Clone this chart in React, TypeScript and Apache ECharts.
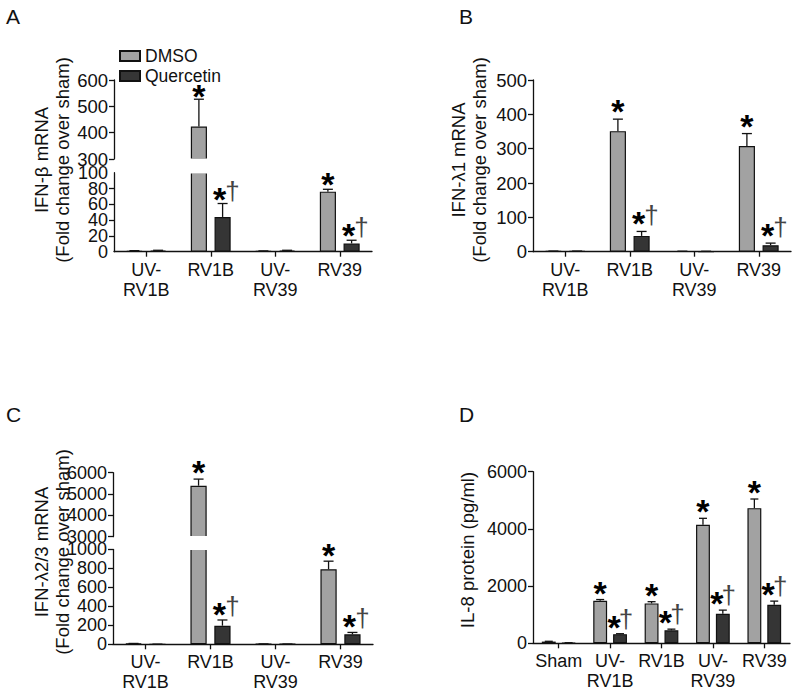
import React, { useEffect, useRef } from "react";
import * as echarts from "echarts";

// ---------- data ----------
const catsABC = ["UV-\nRV1B", "RV1B", "UV-\nRV39", "RV39"];
const catsD = ["Sham", "UV-\nRV1B", "RV1B", "UV-\nRV39", "RV39"];

// A: IFN-beta mRNA
const ifnbDmso = [1, 423, 0.8, 76];
const ifnbDmsoErr = [0.3, 104, 0.2, 3];
const ifnbQuer = [1.5, 44, 1.5, 10.5];
const ifnbQuerErr = [0.3, 17, 0.3, 4];

// B: IFN-lambda1 mRNA
const ifnl1Dmso = [1.5, 351, 1.2, 308];
const ifnl1DmsoErr = [0.3, 35, 0.3, 36];
const ifnl1Quer = [1.5, 46, 1, 19];
const ifnl1QuerErr = [0.3, 13, 0.3, 6];

// C: IFN-lambda2/3 mRNA
const ifnl23Dmso = [8, 5390, 3, 790];
const ifnl23DmsoErr = [1, 310, 1, 85];
const ifnl23Quer = [1, 196, 2, 105];
const ifnl23QuerErr = [0.5, 60, 0.5, 20];

// D: IL-8 protein
const il8Dmso = [60, 1485, 1395, 4145, 4725];
const il8DmsoErr = [10, 45, 60, 225, 320];
const il8Quer = [15, 320, 455, 1035, 1345];
const il8QuerErr = [5, 15, 40, 125, 130];

// significance flags (vs sham: *, vs DMSO: †)
const sigABC = [false, true, false, true];
const sigD = [false, true, true, true, true];

// ---------- styles ----------
const FONT = "'Liberation Sans', Arial, sans-serif";
const DMSO_COLOR = "#a2a2a2";
const QUER_COLOR = "#353535";
const INK = "#111";

type Panel = {
  grid: number;
  cats: string[];
  lo: number;
  hi: number;
  interval: number;
  showX: boolean;
  barPct: number;
  gapPct: number;
  cap: number;
  qStarDx: number;
  qDagDx: number;
  starGap: number;
  dmso: number[];
  dmsoErr: number[];
  quer: number[];
  querErr: number[];
  sig: boolean[];
  tickFont: number;
  splitEnds?: boolean;
};

const grids = [
  { left: 114, top: 80, width: 258, height: 79 }, // A upper
  { left: 114, top: 172.7, width: 258, height: 79 }, // A lower
  { left: 533, top: 80, width: 258, height: 171.7 }, // B
  { left: 113, top: 472.7, width: 260, height: 64 }, // C upper
  { left: 113, top: 549.3, width: 260, height: 95 }, // C lower
  { left: 533, top: 471.7, width: 257, height: 171.6 }, // D
];

const panels: Panel[] = [
  { grid: 0, cats: catsABC, lo: 300, hi: 600, interval: 100, showX: false, barPct: 0.25, gapPct: 0.47, cap: 10, qStarDx: -3, qDagDx: 10, starGap: 9, dmso: ifnbDmso, dmsoErr: ifnbDmsoErr, quer: ifnbQuer, querErr: ifnbQuerErr, sig: sigABC, tickFont: 18.5 },
  { grid: 1, cats: catsABC, lo: 0, hi: 100, interval: 20, showX: true, barPct: 0.25, gapPct: 0.47, cap: 10, qStarDx: -3, qDagDx: 10, starGap: 11, dmso: ifnbDmso, dmsoErr: ifnbDmsoErr, quer: ifnbQuer, querErr: ifnbQuerErr, sig: sigABC, tickFont: 18, splitEnds: true },
  { grid: 2, cats: catsABC, lo: 0, hi: 500, interval: 100, showX: true, barPct: 0.25, gapPct: 0.47, cap: 10, qStarDx: -3, qDagDx: 10, starGap: 14, dmso: ifnl1Dmso, dmsoErr: ifnl1DmsoErr, quer: ifnl1Quer, querErr: ifnl1QuerErr, sig: sigABC, tickFont: 18.5 },
  { grid: 3, cats: catsABC, lo: 3000, hi: 6000, interval: 1000, showX: false, barPct: 0.25, gapPct: 0.47, cap: 10, qStarDx: -3, qDagDx: 10, starGap: 13, dmso: ifnl23Dmso, dmsoErr: ifnl23DmsoErr, quer: ifnl23Quer, querErr: ifnl23QuerErr, sig: sigABC, tickFont: 18 },
  { grid: 4, cats: catsABC, lo: 0, hi: 1000, interval: 200, showX: true, barPct: 0.25, gapPct: 0.47, cap: 10, qStarDx: -3, qDagDx: 10, starGap: 12, dmso: ifnl23Dmso, dmsoErr: ifnl23DmsoErr, quer: ifnl23Quer, querErr: ifnl23QuerErr, sig: sigABC, tickFont: 18 },
  { grid: 5, cats: catsD, lo: 0, hi: 6000, interval: 2000, showX: true, barPct: 0.27, gapPct: 0.43, cap: 8, qStarDx: -6, qDagDx: 6, starGap: 13, dmso: il8Dmso, dmsoErr: il8DmsoErr, quer: il8Quer, querErr: il8QuerErr, sig: sigD, tickFont: 18 },
];

function errSeries(p: Panel, which: number) {
  const vals = which === 0 ? p.dmso : p.quer;
  const errs = which === 0 ? p.dmsoErr : p.querErr;
  return {
    type: "custom",
    name: (which === 0 ? "errD" : "errQ") + p.grid,
    xAxisIndex: p.grid,
    yAxisIndex: p.grid,
    z: 5,
    silent: true,
    encode: { x: 0, y: 1 },
    data: vals.map((v, i) => [i, v, errs[i]]),
    renderItem: (params: any, api: any) => {
      const i = api.value(0);
      const v = api.value(1);
      const e = api.value(2);
      const top = v + e;
      const children: any[] = [];
      if (top < p.lo || v > p.hi) return { type: "group", children };
      const band = api.size([1, 0])[0];
      const bw = band * p.barPct;
      const g = bw * p.gapPct;
      const cx = api.coord([i, p.lo])[0] + (which === 0 ? -1 : 1) * (bw + g) / 2;
      const y0 = api.coord([i, Math.max(v, p.lo)])[1];
      const y1 = api.coord([i, Math.min(top, p.hi)])[1];
      const ls = { stroke: INK, lineWidth: 1.3 };
      children.push({ type: "line", shape: { x1: cx, y1: y0, x2: cx, y2: y1 }, style: ls });
      if (top <= p.hi) {
        children.push({ type: "line", shape: { x1: cx - p.cap / 2, y1: y1, x2: cx + p.cap / 2, y2: y1 }, style: ls });
        if (p.sig[i]) {
          const sx = which === 0 ? cx : cx + p.qStarDx;
          const sy = y1 - p.starGap + 6;
          children.push({
            type: "text",
            x: sx,
            y: sy,
            style: { text: "*", fontSize: 34, lineHeight: 22, fontWeight: "bold", fontFamily: FONT, fill: "#000", align: "center", verticalAlign: "middle" },
          });
          if (which === 1) {
            children.push({
              type: "text",
              x: cx + p.qDagDx,
              y: sy - 8,
              style: { text: "\u2020", fontSize: 26, fontFamily: FONT, fill: "#444", align: "center", verticalAlign: "middle" },
            });
          }
        }
      }
      return { type: "group", children };
    },
  };
}

function barSeries(p: Panel, which: number) {
  return {
    type: "bar",
    name: which === 0 ? "DMSO" : "Quercetin",
    xAxisIndex: p.grid,
    yAxisIndex: p.grid,
    data: which === 0 ? p.dmso : p.quer,
    barWidth: p.barPct * 100 + "%",
    barGap: p.gapPct * 100 + "%",
    clip: true,
    itemStyle: { color: which === 0 ? DMSO_COLOR : QUER_COLOR, borderColor: INK, borderWidth: 1.2 },
  };
}

function buildOption() {
  const axisLine = { show: true, lineStyle: { color: INK, width: 1.3 } };
  const xAxis = panels.map((p) => ({
    type: "category",
    gridIndex: p.grid,
    data: p.cats,
    show: p.showX,
    axisLine,
    axisTick: { show: true, alignWithLabel: true, length: 5, lineStyle: { color: INK, width: 1.3 } },
    axisLabel: { fontSize: 18, fontFamily: FONT, color: INK, margin: 8, lineHeight: 20, interval: 0 },
  }));
  const yAxis: any[] = panels.map((p) => ({
    type: "value",
    gridIndex: p.grid,
    position: "left",
    min: p.lo,
    max: p.hi,
    interval: p.interval,
    axisLine,
    axisTick: { show: true, length: 5, lineStyle: { color: INK, width: 1.3 } },
    splitLine: { show: false },
    axisLabel: {
      fontSize: p.tickFont,
      fontFamily: FONT,
      color: INK,
      margin: 6,
      showMinLabel: !p.splitEnds,
      showMaxLabel: !p.splitEnds,
      formatter: (v: number) => String(v),
    },
  }));
  // end labels (0 and 100) of the dense lower axis in panel A, on a companion axis
  panels
    .filter((p) => p.splitEnds)
    .forEach((p) => {
      yAxis.push({
        type: "value",
        gridIndex: p.grid,
        position: "left",
        offset: 0,
        min: p.lo,
        max: p.hi,
        interval: p.hi - p.lo,
        axisLine: { show: false },
        axisTick: { show: false },
        splitLine: { show: false },
        axisLabel: {
          fontSize: p.tickFont,
          fontFamily: FONT,
          color: INK,
          margin: 6,
          showMinLabel: true,
          showMaxLabel: true,
          formatter: (v: number) => String(v),
        },
      });
    });

  const series: any[] = [];
  panels.forEach((p) => {
    series.push(barSeries(p, 0), barSeries(p, 1), errSeries(p, 0), errSeries(p, 1));
  });

  const title = (text: string, x: number, y: number) => ({
    type: "text",
    x,
    y,
    z: 50,
    style: { text, fontSize: 21, fontFamily: FONT, fill: INK, align: "left", verticalAlign: "top" },
  });
  const yName = (text: string, x: number, y: number) => ({
    type: "text",
    x,
    y,
    rotation: Math.PI / 2,
    z: 50,
    style: { text, fontSize: 18.5, fontFamily: FONT, fill: INK, align: "center", verticalAlign: "middle" },
  });
  const cover = (x: number, y: number, w: number, h: number) => ({
    type: "rect",
    z: 3,
    shape: { x, y, width: w, height: h },
    style: { fill: "#fff" },
  });

  return {
    animation: false,
    grid: grids,
    xAxis,
    yAxis,
    series,
    legend: {
      data: ["DMSO", "Quercetin"],
      orient: "vertical",
      left: 114,
      top: 42,
      itemWidth: 20,
      itemHeight: 10,
      itemGap: 2,
      icon: "rect",
      textStyle: { fontSize: 17.5, fontFamily: FONT, color: INK },
      selectedMode: false,
    },
    graphic: [
      cover(115.5, 158.4, 257, 15),
      cover(114.5, 536, 259, 13.9),
      title("A", 6, 6),
      title("B", 459, 6),
      title("C", 6, 404),
      title("D", 459, 404),
      yName("IFN-\u03b2 mRNA", 41, 160),
      yName("(Fold change over sham)", 62, 160),
      yName("IFN-\u03bb1 mRNA", 458, 160),
      yName("(Fold change over sham)", 479, 160),
      yName("IFN-\u03bb2/3 mRNA", 41, 552),
      yName("(Fold change over sham)", 62, 552),
      yName("IL-8 protein (pg/ml)", 467, 550),
    ],
  };
}

export default function App() {
  const ref = useRef<HTMLDivElement>(null);
  useEffect(() => {
    if (!ref.current) return;
    const chart = echarts.init(ref.current, null, { renderer: "svg" });
    chart.setOption(buildOption() as any);
    return () => chart.dispose();
  }, []);
  return <div ref={ref} style={{ width: 800, height: 694, position: "absolute", left: 0, top: 0, background: "#fff" }} />;
}
